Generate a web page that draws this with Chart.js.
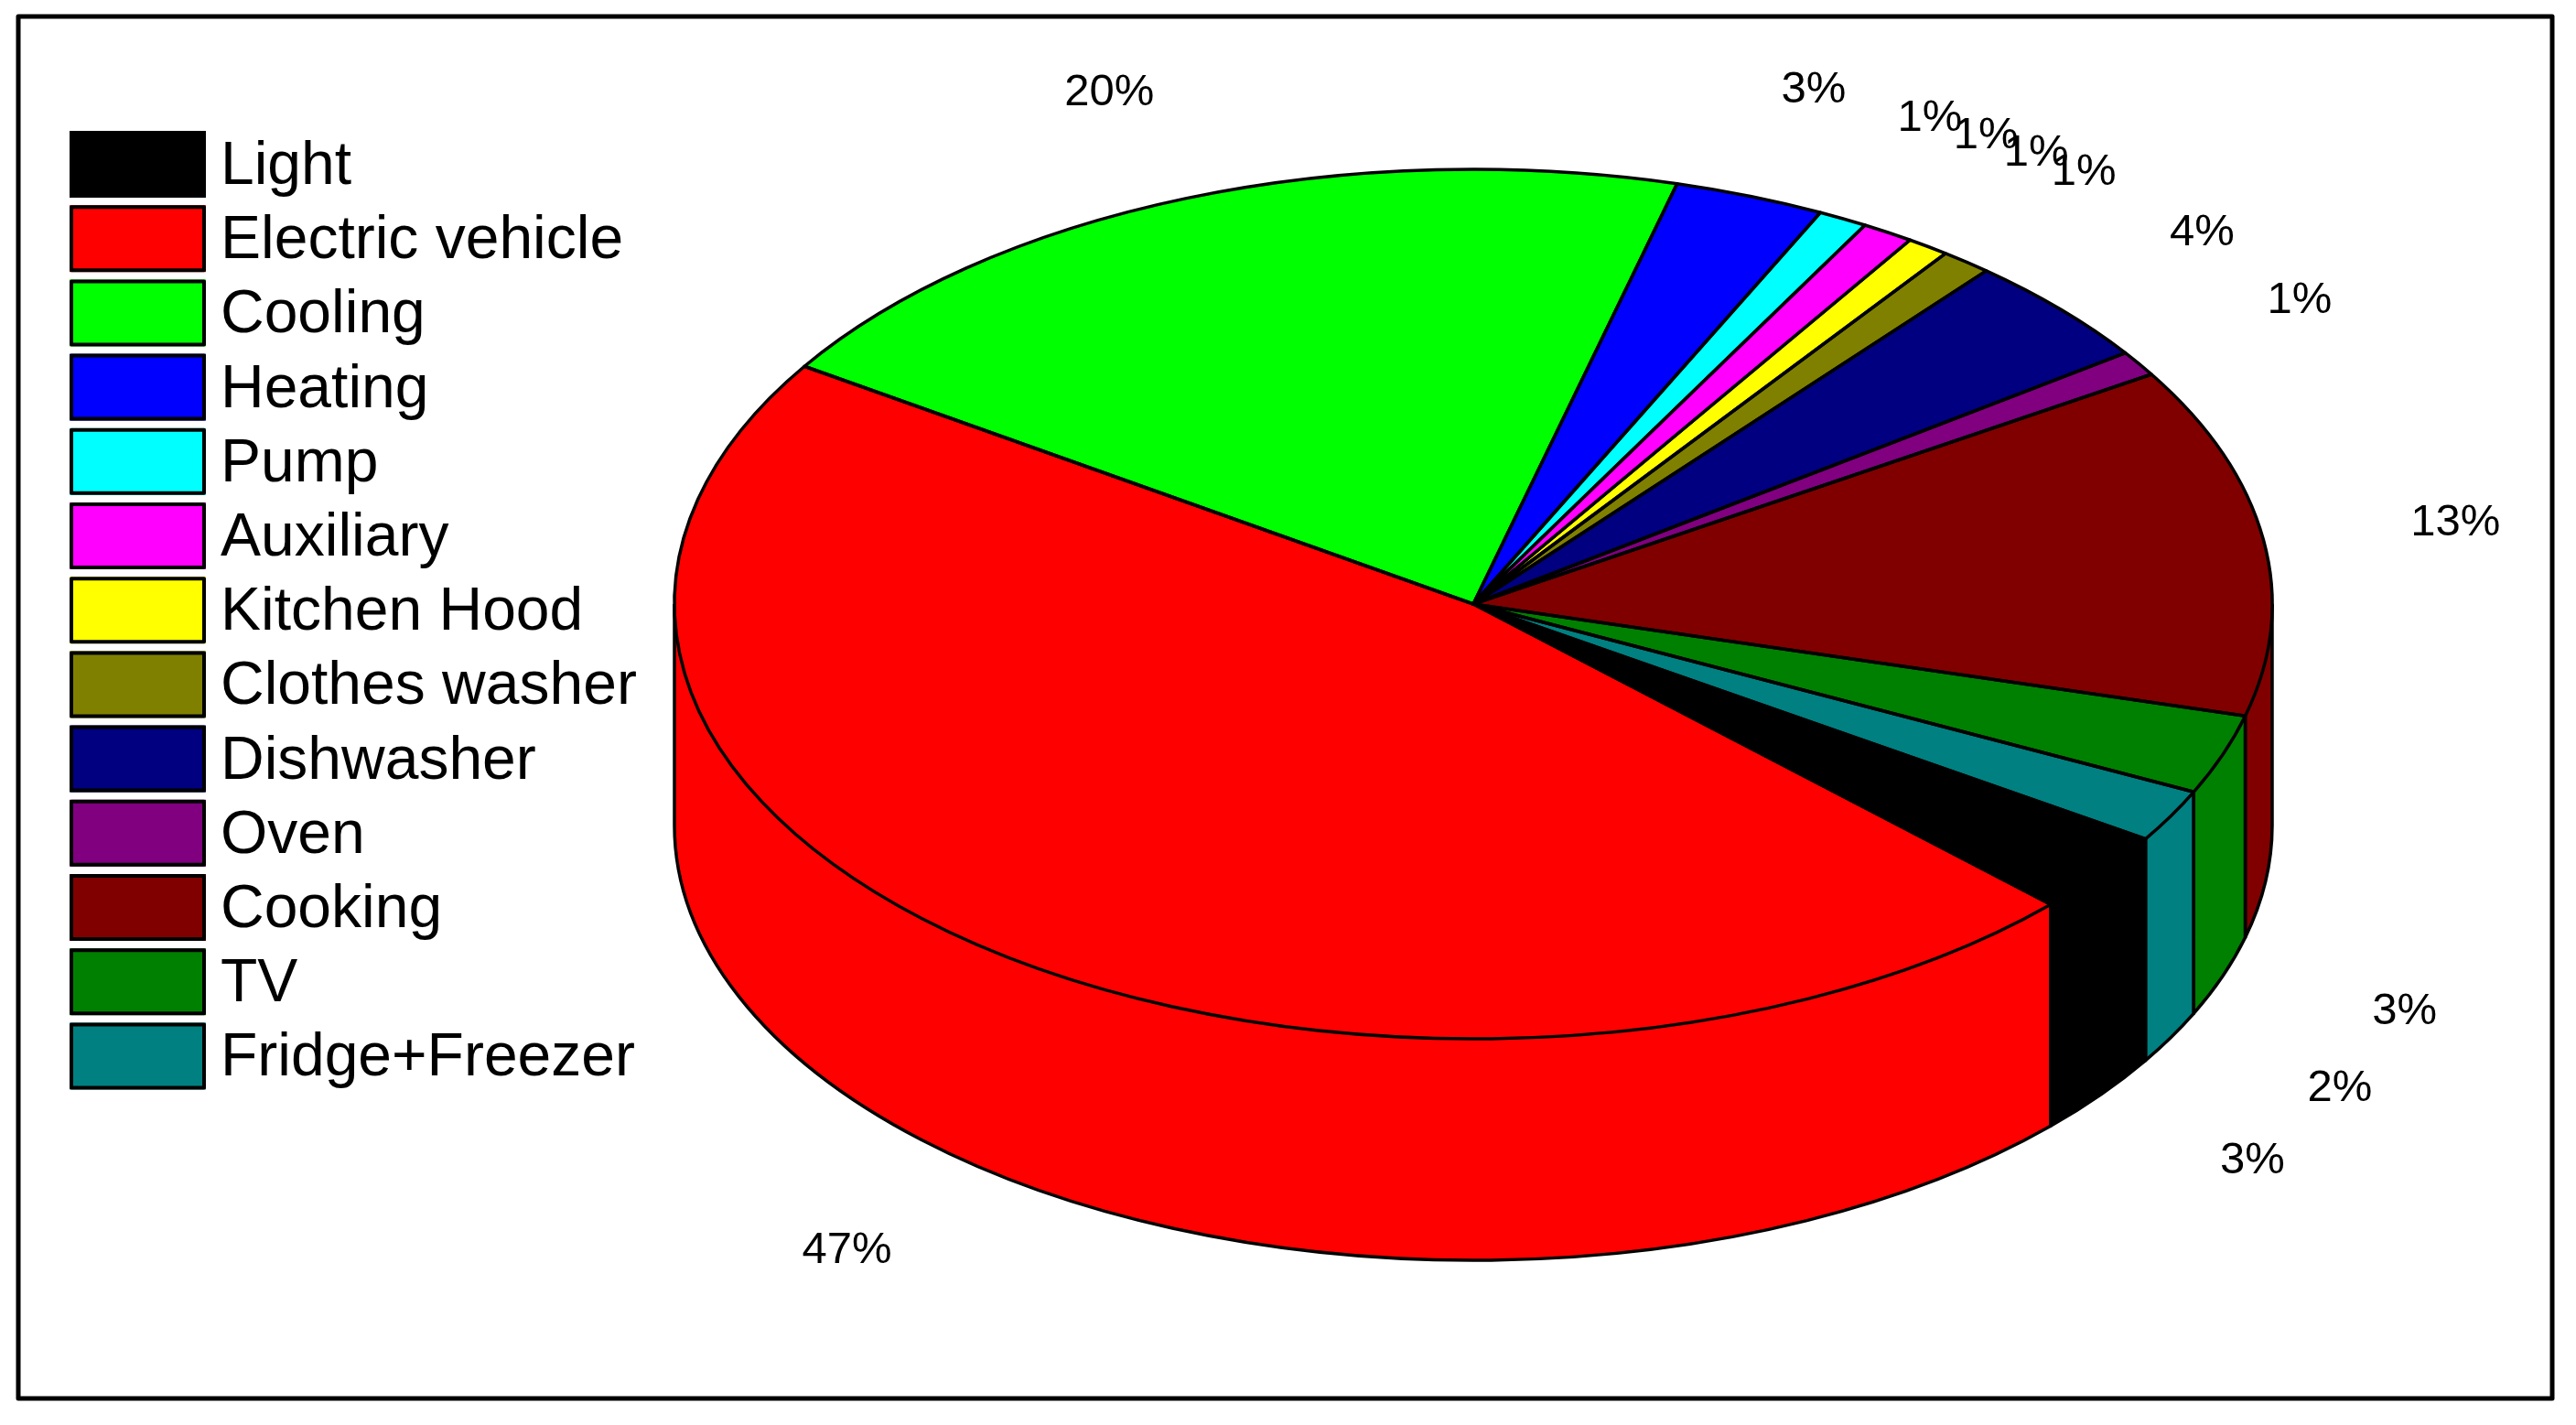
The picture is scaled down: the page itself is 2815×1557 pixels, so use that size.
<!DOCTYPE html>
<html>
<head>
<meta charset="utf-8">
<title>Electricity use by appliance</title>
<script src="https://cdn.jsdelivr.net/npm/chart.js@4/dist/chart.umd.min.js"></script>
<style>
	body { margin: 0; background: #fff; }
	canvas { display: block; }
</style>
</head>
<body>
<canvas id="chart" width="2815" height="1557"></canvas>
<script>
var categories = ["Light", "Electric vehicle", "Cooling", "Heating", "Pump", "Auxiliary", "Kitchen Hood",
	"Clothes washer", "Dishwasher", "Oven", "Cooking", "TV", "Fridge+Freezer"];
var shares = [3.06, 47.05, 19.89, 3.05, 1.0, 1.05, 0.86, 1.03, 4.1, 0.94, 13.0, 2.97, 1.97];
var colors = ["#000000", "#ff0000", "#00ff00", "#0000ff", "#00ffff", "#ff00ff", "#ffff00",
	"#808000", "#000080", "#800080", "#800000", "#008000", "#008080"];

var FONT = '"Liberation Sans", Arial, sans-serif';
var STRETCH = 873 / 475; // the pie is laid out round, then widened into an ellipse
var DEPTH = 242;         // height of the side wall
var LINE = 3.5;

// walls and top of the pie, made from the arc elements the doughnut controller laid out
function drawPie(ctx, arcs) {
	var cx = arcs[0].x, cy = arcs[0].y;

	function squash(dy) {
		ctx.translate(cx, cy + dy);
		ctx.scale(STRETCH, 1);
		ctx.translate(-cx, -cy);
	}
	function paint(dy) {
		arcs.forEach(function(arc) {
			var opts = arc.options;
			arc.options = Object.assign({}, opts, {borderWidth: 0});
			ctx.save();
			squash(dy);
			arc.draw(ctx);
			ctx.restore();
			arc.options = opts;
		});
	}

	for (var dy = DEPTH; dy > 0; dy--) {
		paint(dy);
	}

	// wall outlines, only on the front half
	ctx.lineWidth = LINE;
	ctx.strokeStyle = "#000";
	ctx.lineJoin = "round";
	arcs.forEach(function(arc) {
		var s = arc.startAngle, e = arc.endAngle;
		if (s > Math.PI && e > Math.PI * 2) { s -= Math.PI * 2; e -= Math.PI * 2; }
		s = Math.max(s, 0);
		e = Math.min(e, Math.PI);
		if (s >= e) return;
		var rx = arc.outerRadius * STRETCH, ry = arc.outerRadius;
		ctx.beginPath();
		ctx.moveTo(cx + rx * Math.cos(s), cy + ry * Math.sin(s));
		ctx.lineTo(cx + rx * Math.cos(s), cy + ry * Math.sin(s) + DEPTH);
		ctx.ellipse(cx, cy + DEPTH, rx, ry, 0, s, e);
		ctx.lineTo(cx + rx * Math.cos(e), cy + ry * Math.sin(e));
		ctx.stroke();
	});

	paint(0);

	// top face outlines, drawn after the scale so the line stays even
	arcs.forEach(function(arc) {
		ctx.beginPath();
		ctx.moveTo(cx, cy);
		ctx.ellipse(cx, cy, arc.outerRadius * STRETCH, arc.outerRadius, 0, arc.startAngle, arc.endAngle);
		ctx.closePath();
		ctx.stroke();
	});
}

function drawPercents(ctx, arcs) {
	var total = shares.reduce(function(a, b) { return a + b; }, 0);
	ctx.fillStyle = "#000";
	ctx.font = "49px " + FONT;
	ctx.textAlign = "center";
	ctx.textBaseline = "middle";
	arcs.forEach(function(arc, i) {
		var mid = (arc.startAngle + arc.endAngle) / 2;
		var sin = Math.sin(mid);
		var x = arc.x - 6 + 1.25 * arc.outerRadius * STRETCH * Math.cos(mid);
		var y = arc.y + 1.26 * arc.outerRadius * sin + (sin > 0 ? DEPTH - 4 : 0);
		ctx.fillText(Math.round(shares[i] / total * 100) + "%", x, y);
	});
}

function drawKey(ctx) {
	ctx.font = "66px " + FONT;
	ctx.textAlign = "left";
	ctx.textBaseline = "alphabetic";
	categories.forEach(function(name, i) {
		var top = 143 + 81.2 * i;
		ctx.fillStyle = colors[i];
		ctx.fillRect(76, top, 149, 73);
		ctx.strokeStyle = "#000";
		ctx.lineWidth = 4;
		ctx.strokeRect(78, top + 2, 145, 69);
		ctx.fillStyle = "#000";
		ctx.fillText(name, 241, top + 58);
	});
}

var pie3d = {
	id: "pie3d",
	beforeDatasetsDraw: function(chart) {
		var ctx = chart.ctx;
		var arcs = chart.getDatasetMeta(0).data;
		ctx.save();
		drawPie(ctx, arcs);
		drawPercents(ctx, arcs);
		drawKey(ctx);
		// outer frame
		ctx.strokeStyle = "#000";
		ctx.lineWidth = 5;
		ctx.strokeRect(20, 18, 2769, 1510);
		ctx.restore();
		return false;
	}
};

new Chart(document.getElementById("chart").getContext("2d"), {
	type: "pie",
	data: {
		labels: categories,
		datasets: [{
			data: shares,
			backgroundColor: colors,
			borderWidth: 0
		}]
	},
	options: {
		responsive: false,
		animation: false,
		events: [],
		rotation: 122.7,
		layout: { padding: { left: 1135, right: 730, top: 185, bottom: 422 } },
		plugins: { legend: { display: false }, tooltip: { enabled: false } }
	},
	plugins: [pie3d]
});
</script>
</body>
</html>
